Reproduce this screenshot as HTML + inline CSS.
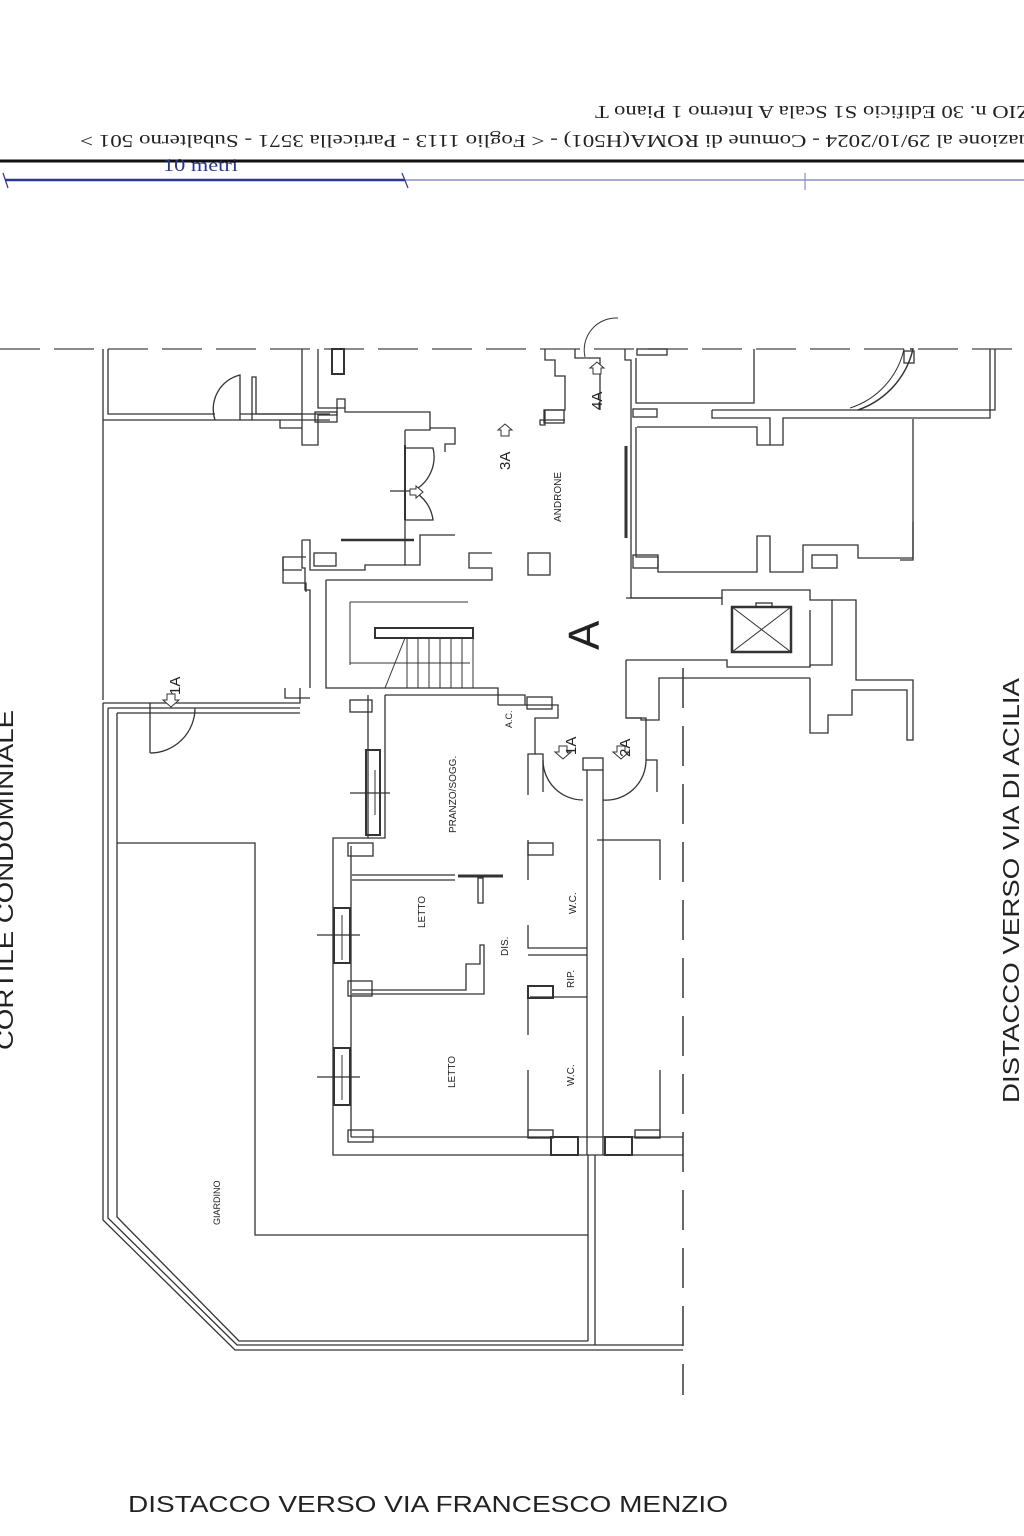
<!DOCTYPE html>
<html><head><meta charset="utf-8"><style>
html,body{margin:0;padding:0;background:#fff}
svg{display:block}
</style></head><body>
<svg width="1024" height="1536" viewBox="0 0 1024 1536" xmlns="http://www.w3.org/2000/svg" font-family="Liberation Sans, sans-serif">
<rect width="1024" height="1536" fill="#fff"/>
<!-- header upside-down -->
<g font-family="Liberation Serif, serif" font-size="18" fill="#222">
<text transform="translate(1030,106) rotate(180)" textLength="435" lengthAdjust="spacingAndGlyphs">ZIO n. 30  Edificio S1 Scala A Interno 1 Piano T</text>
<text transform="translate(1030,135) rotate(180)" textLength="950" lengthAdjust="spacingAndGlyphs">uazione al 29/10/2024 - Comune di ROMA(H501) - &lt; Foglio 1113 - Particella  3571 - Subalterno 501 &gt;</text>
</g>
<line x1="0" y1="161" x2="1024" y2="161" stroke="#111" stroke-width="3"/>
<text x="163" y="171" font-size="18" fill="#2a3590" font-family="Liberation Serif, serif" textLength="75" lengthAdjust="spacingAndGlyphs">10 metri</text>
<line x1="5" y1="180" x2="405" y2="180" stroke="#2a3590" stroke-width="2.5"/>
<line x1="405" y1="180" x2="1024" y2="180" stroke="#a8acd0" stroke-width="2"/>
<g stroke="#2a3590" stroke-width="1.2"><line x1="3" y1="173" x2="8" y2="188"/><line x1="402" y1="173" x2="408" y2="188"/></g>
<line x1="805" y1="173" x2="805" y2="190" stroke="#8a90c8" stroke-width="1.2"/>

<!-- dashed boundary lines -->
<line x1="0" y1="349" x2="1024" y2="349" stroke="#444" stroke-width="1.3" stroke-dasharray="40,14"/>
<line x1="683" y1="668" x2="683" y2="1395" stroke="#444" stroke-width="1.6" stroke-dasharray="40,18"/>

<g fill="none" stroke="#333" stroke-width="1.3">
<polyline points="103,349 103,700"/>
<polyline points="108,349 108,414 215,414"/>
<polyline points="240,414 330,414"/>
<line x1="103" y1="420" x2="330" y2="420"/>
<path d="M215,420 A35,35 0 0 1 240,375 L240,420"/>
<polyline points="252,420 252,377 256,377 256,414 302,414"/>
<polyline points="302,349 302,445 318,445 318,415 337,415 337,399 345,399 345,412 430,412 430,428"/>
<polyline points="318,349 318,408 345,408"/>
<rect x="315" y="412" width="22" height="10"/>
<rect x="332" y="349" width="12" height="25" stroke-width="2"/>
<polyline points="280,420 280,428 302,428"/>
<polyline points="405,430 405,565 420,565 420,535 455,535"/>
<polyline points="405,430 430,430 430,428 455,428 455,444 445,444 445,452"/>
<line x1="405" y1="445" x2="405" y2="520" stroke-width="2"/>
<path d="M405,448 L433,448 A38,38 0 0 1 413,491 M405,520 L433,520 A38,38 0 0 0 413,491"/>
<line x1="390" y1="491" x2="420" y2="491"/>
<polyline points="414,540 341,540" stroke-width="2.5"/>
<polyline points="302,540 302,568 305,568 305,590 310,590 310,688"/>
<polyline points="302,540 310,540 310,570 365,570 365,565 405,565"/>
<rect x="314" y="553" width="22" height="13"/>
<polyline points="306,557 283,557 283,570 302,570"/>
<polyline points="283,557 283,583 306,583 306,592"/>
<polyline points="285,688 285,698 310,698"/>
<polyline points="326,580 492,580 492,568 469,568 469,553 492,553"/>
<polyline points="326,580 326,688 498,688 498,705"/>
<rect x="528" y="553" width="22" height="22"/>
<rect x="375" y="628" width="98" height="10" stroke-width="2"/>
<g stroke-width="1"><line x1="407" y1="638" x2="407" y2="688"/><line x1="418" y1="638" x2="418" y2="688"/><line x1="429" y1="638" x2="429" y2="688"/><line x1="440" y1="638" x2="440" y2="688"/><line x1="451" y1="638" x2="451" y2="688"/><line x1="462" y1="638" x2="462" y2="688"/><line x1="473" y1="638" x2="473" y2="688"/>
<line x1="405" y1="638" x2="385" y2="688"/>
<line x1="350" y1="602" x2="350" y2="665"/><line x1="350" y1="602" x2="468" y2="602"/><line x1="350" y1="663" x2="470" y2="663"/></g>
<polyline points="545,349 545,360 555,360 555,376 565,376 565,410 545,410 545,425 540,425"/>
<rect x="544" y="410" width="20" height="13"/>
<polyline points="540,425 540,420 565,420"/>
<polyline points="575,349 575,358 600,358 600,410"/>
<path d="M585,357 A32,32 0 0 1 618,318" stroke-width="1"/>
<polyline points="625,349 625,360 631,360 631,598 722,598 722,605"/>
<line x1="626" y1="446" x2="626" y2="538" stroke-width="3"/>
<polyline points="636,358 636,403 754,403 754,349"/>
<rect x="633" y="409" width="24" height="8"/>
<polyline points="712,410 712,418 770,418 770,445 783,445 783,418 990,418 990,349"/>
<polyline points="712,410 995,410 995,349"/>
<path d="M910,349 L913,349 A85,85 0 0 1 858,410" stroke-width="1.5"/>
<path d="M904,349 A80,80 0 0 1 850,408" stroke-width="1"/>
<rect x="904" y="351" width="10" height="12"/>
<rect x="637" y="349" width="30" height="6"/>
<polyline points="637,427 757,427 757,445 770,445"/>
<polyline points="636,427 636,557 658,557 658,572 757,572 757,536 770,536 770,572 803,572 803,545 858,545 858,558 913,558 913,419"/>
<rect x="633" y="555" width="25" height="13"/>
<rect x="812" y="555" width="25" height="13"/>
<polyline points="900,560 913,560 913,522"/>
<polyline points="626,598 722,598 722,590 810,590 810,600 832,600 832,665 810,665 810,667 727,667 727,660 626,660"/>
<rect x="732" y="607" width="59" height="45" stroke-width="2.5"/>
<line x1="732" y1="607" x2="791" y2="652" stroke-width="1"/><line x1="791" y1="607" x2="732" y2="652" stroke-width="1"/>
<rect x="756" y="603" width="16" height="4"/>
<polyline points="832,600 856,600 856,680 913,680 913,740 907,740 907,690 852,690 852,715 828,715 828,733 810,733 810,678"/>
<polyline points="810,667 810,610"/>
<polyline points="626,660 626,718 641,718 641,720 659,720 659,678 810,678"/>
<polyline points="498,705 558,705 558,718 535,718 535,754 528,754 528,795"/>
<rect x="527" y="697" width="25" height="12"/>
<polyline points="626,718 646,718 646,760 657,760 657,792"/>
<polyline points="535,754 543,754 543,792"/>
<path d="M543,760 A40,40 0 0 0 583,800 M646,760 A40,40 0 0 1 603,800"/>
<rect x="583" y="758" width="20" height="12"/>
<polyline points="385,695 525,695 525,705"/>
<polyline points="368,695 368,838 333,838 333,1155 683,1155"/>
<polyline points="385,695 385,838 368,838"/>
<rect x="350" y="700" width="22" height="12"/>
<rect x="348" y="843" width="25" height="13"/>
<line x1="351" y1="846" x2="351" y2="1137"/>
<polyline points="351,1137 683,1137"/>
<rect x="366" y="750" width="14" height="85" stroke-width="2"/>
<line x1="350" y1="793" x2="390" y2="793"/><line x1="375" y1="770" x2="375" y2="815" stroke-width="1"/>
<rect x="334" y="908" width="16" height="55" stroke-width="2"/>
<line x1="317" y1="935" x2="360" y2="935"/><line x1="342" y1="915" x2="342" y2="960" stroke-width="1"/>
<rect x="334" y="1048" width="16" height="57" stroke-width="2"/>
<line x1="317" y1="1077" x2="360" y2="1077"/><line x1="342" y1="1055" x2="342" y2="1100" stroke-width="1"/>
<polyline points="352,875 455,875"/><polyline points="352,880 455,880"/>
<line x1="458" y1="876" x2="503" y2="876" stroke-width="3"/>
<rect x="478" y="878" width="5" height="25"/>
<rect x="348" y="981" width="24" height="15"/>
<polyline points="352,994 484,994 484,945 480,945 480,964 466,964 466,990 352,990"/>
<rect x="348" y="1130" width="25" height="12"/>
<polyline points="528,840 528,880 M530,840 587,840 M530,845 587,845"/>
<rect x="528" y="843" width="25" height="12"/>
<polyline points="528,925 528,948 587,948 M603,948 660,948 660,925"/>
<polyline points="597,840 660,840 660,880 M603,845 625,845 625,852 655,852 655,880"/>
<line x1="587" y1="770" x2="587" y2="1155"/><line x1="603" y1="770" x2="603" y2="1155"/>
<polyline points="528,955 587,955 M603,955 603,985 618,985 618,995 655,995 655,1000 660,1000 660,1035"/>
<rect x="528" y="986" width="25" height="12" stroke-width="2"/>
<polyline points="530,997 587,997 M603,1001 655,1001"/>
<line x1="528" y1="997" x2="528" y2="1035"/>
<line x1="528" y1="1070" x2="528" y2="1137"/><line x1="660" y1="1070" x2="660" y2="1137"/>
<rect x="528" y="1130" width="25" height="8"/><rect x="635" y="1130" width="25" height="8"/>
<rect x="551" y="1137" width="27" height="18" stroke-width="2"/>
<rect x="605" y="1137" width="27" height="18" stroke-width="2"/>
<polyline points="103,703 300,703 300,688"/>
<polyline points="108,708 300,708"/>
<polyline points="103,703 103,1220 235,1350 683,1350"/>
<polyline points="108,708 108,1218 237,1345 683,1345"/>
<polyline points="117,713 117,1217 239,1341 588,1341"/>
<polyline points="117,713 300,713"/>
<polyline points="117,843 255,843 255,1235 588,1235 M595,1235 683,1235"/>
<line x1="588" y1="1155" x2="588" y2="1341"/><line x1="595" y1="1155" x2="595" y2="1345"/>
<line x1="150" y1="703" x2="150" y2="753"/>
<path d="M150,753 A45,45 0 0 0 195,708"/>
</g>
<g fill="#fff" stroke="#333" stroke-width="1">
<path d="M163,700 l8,-7 l8,7 l-4,0 l0,6 l-8,0 l0,-6 z" transform="rotate(180,171,700)"/>
<path d="M498,430 l7,-6 l7,6 l-3,0 l0,6 l-8,0 l0,-6 z"/>
<path d="M590,368 l7,-6 l7,6 l-3,0 l0,6 l-8,0 l0,-6 z"/>
<path d="M410,492 l6,-7 l6,7 l-3,0 l0,6 l-6,0 l0,-6 z" transform="rotate(90,416,492)"/>
<path d="M555,752 l8,7 l8,-7 l-4,0 l0,-6 l-8,0 l0,6 z"/>
<path d="M613,752 l8,7 l8,-7 l-4,0 l0,-6 l-8,0 l0,6 z"/>
</g>
<g fill="#222">
<text transform="translate(180,695) rotate(-90)" font-size="15">1A</text>
<text transform="translate(510,470) rotate(-90)" font-size="15">3A</text>
<text transform="translate(602,410) rotate(-90)" font-size="15">4A</text>
<text transform="translate(576,755) rotate(-90)" font-size="15">1A</text>
<text transform="translate(630,757) rotate(-90)" font-size="15">2A</text>
<text transform="translate(561,522) rotate(-90)" font-size="10">ANDRONE</text>
<text transform="translate(599,650) rotate(-90)" font-size="44">A</text>
<text transform="translate(512,728) rotate(-90)" font-size="9">A.C.</text>
<text transform="translate(456,833) rotate(-90)" font-size="10">PRANZO/SOGG.</text>
<text transform="translate(425,928) rotate(-90)" font-size="10">LETTO</text>
<text transform="translate(508,956) rotate(-90)" font-size="10">DIS.</text>
<text transform="translate(576,914) rotate(-90)" font-size="10">W.C.</text>
<text transform="translate(574,988) rotate(-90)" font-size="10">RIP.</text>
<text transform="translate(455,1088) rotate(-90)" font-size="10">LETTO</text>
<text transform="translate(574,1086) rotate(-90)" font-size="10">W.C.</text>
<text transform="translate(220,1225) rotate(-90)" font-size="9">GIARDINO</text>
<text transform="translate(1019,1103) rotate(-90)" font-size="23" textLength="425" lengthAdjust="spacingAndGlyphs">DISTACCO VERSO VIA DI ACILIA</text>
<text transform="translate(13,1050) rotate(-90)" font-size="23" textLength="340" lengthAdjust="spacingAndGlyphs">CORTILE CONDOMINIALE</text>
<text x="128" y="1512" font-size="23" textLength="600" lengthAdjust="spacingAndGlyphs">DISTACCO VERSO VIA FRANCESCO MENZIO</text>
</g>
</svg>
</body></html>
